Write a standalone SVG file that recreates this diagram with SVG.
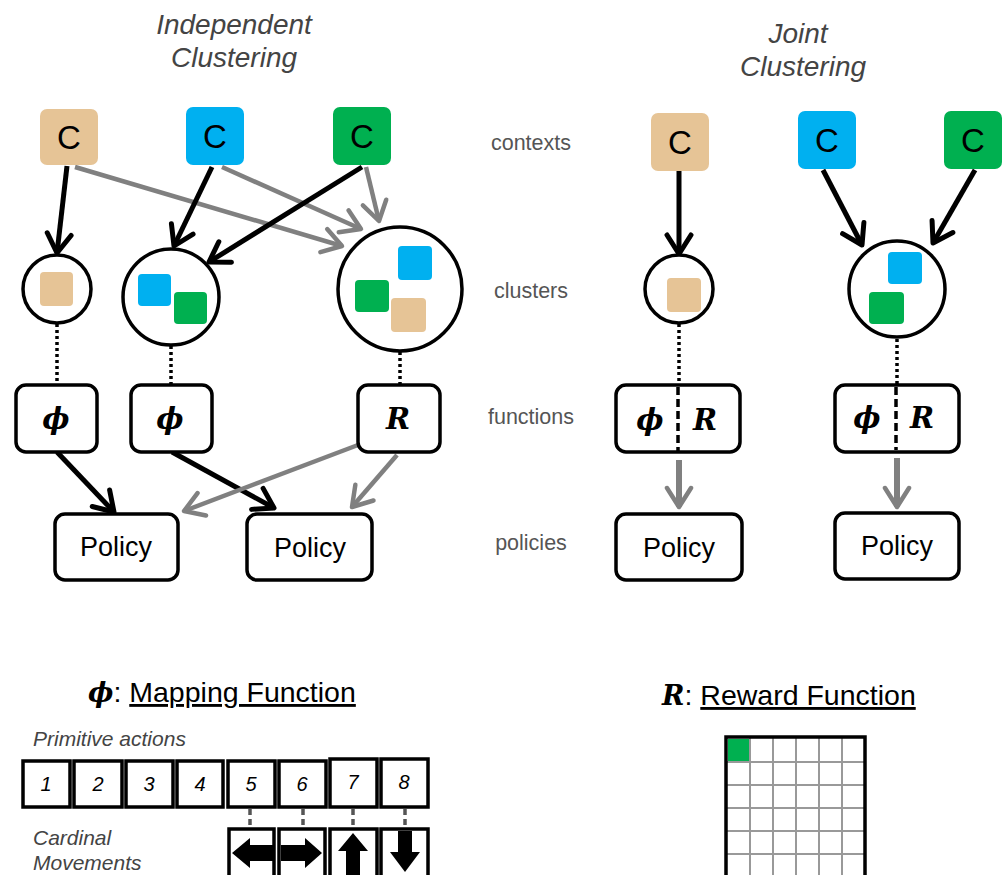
<svg xmlns="http://www.w3.org/2000/svg" width="1008" height="875" viewBox="0 0 1008 875">
<style>
.title{font-family:"Liberation Sans",Arial,sans-serif;font-style:italic;font-size:28px;fill:#444;text-anchor:middle}
.lab{font-family:"Liberation Sans",Arial,sans-serif;font-size:21.5px;fill:#555;text-anchor:middle}
.ctx{font-family:"Liberation Sans",Arial,sans-serif;font-size:33px;fill:#000;text-anchor:middle}
.pol{font-family:"Liberation Sans",Arial,sans-serif;font-size:27px;fill:#000;text-anchor:middle}
.sym{font-family:"DejaVu Serif","Liberation Serif",serif;font-style:italic;font-weight:bold;font-size:29px;fill:#000;text-anchor:middle}
.box{fill:#fff;stroke:#000;stroke-width:3.5}
.circ{fill:#fff;stroke:#000;stroke-width:3.5}
.tan{fill:#E6C496}.blue{fill:#00B0F0}.green{fill:#00B050}
.blk{stroke:#000;stroke-width:5;fill:none}
.gry{stroke:#808080;stroke-width:4.5;fill:none}
.dot{stroke:#000;stroke-width:3.5;stroke-dasharray:3 3;fill:none}
.dash{stroke:#000;stroke-width:3.5;stroke-dasharray:8 4;fill:none}
.it{font-family:"Liberation Sans",Arial,sans-serif;font-style:italic;font-size:21px;fill:#444}
.num{font-family:"Liberation Sans",Arial,sans-serif;font-style:italic;font-size:20px;fill:#000;text-anchor:middle}
.act{fill:#fff;stroke:#000;stroke-width:3.5}
.map{stroke:#555;stroke-width:3.5;stroke-dasharray:6 4;fill:none}
.head{font-family:"Liberation Sans",Arial,sans-serif;font-size:28.5px;fill:#000}
.grid{stroke:#999;stroke-width:2;fill:none}
</style>
<defs>
<marker id="ab" markerUnits="userSpaceOnUse" viewBox="-26 -16 30 32" refX="0" refY="0" markerWidth="30" markerHeight="32" orient="auto" overflow="visible">
<path d="M-19,-12 L0,0 L-19,12" fill="none" stroke="#000" stroke-width="5" stroke-linecap="round" stroke-linejoin="round"/>
</marker>
<marker id="ag" markerUnits="userSpaceOnUse" viewBox="-26 -16 30 32" refX="0" refY="0" markerWidth="30" markerHeight="32" orient="auto" overflow="visible">
<path d="M-19,-12 L0,0 L-19,12" fill="none" stroke="#808080" stroke-width="4.5" stroke-linecap="round" stroke-linejoin="round"/>
</marker>
</defs>
<rect width="1008" height="875" fill="#fff"/>

<g id="titles">
<text class="title" x="234" y="34">Independent</text>
<text class="title" x="234" y="67">Clustering</text>
<text class="title" x="798" y="43">Joint</text>
<text class="title" x="803" y="76">Clustering</text>
</g>
<g id="row-labels">
<text class="lab" x="531" y="150">contexts</text>
<text class="lab" x="531" y="298">clusters</text>
<text class="lab" x="531" y="424">functions</text>
<text class="lab" x="531" y="550">policies</text>
</g>

<g id="connectors">
<line class="blk" x1="67" y1="166" x2="57" y2="253" marker-end="url(#ab)"/>
<line class="gry" x1="75" y1="167" x2="342" y2="246" marker-end="url(#ag)"/>
<line class="blk" x1="212" y1="167" x2="174" y2="246" marker-end="url(#ab)"/>
<line class="gry" x1="222" y1="167" x2="361" y2="229" marker-end="url(#ag)"/>
<line class="blk" x1="362" y1="167" x2="209" y2="262" marker-end="url(#ab)"/>
<line class="gry" x1="366" y1="167" x2="379" y2="221" marker-end="url(#ag)"/>
<line class="blk" x1="57" y1="452" x2="114" y2="512" marker-end="url(#ab)"/>
<line class="blk" x1="172" y1="452" x2="274" y2="508" marker-end="url(#ab)"/>
<line class="gry" x1="358" y1="445" x2="184" y2="511" marker-end="url(#ag)"/>
<line class="gry" x1="397" y1="455" x2="352" y2="507" marker-end="url(#ag)"/>
<line class="blk" x1="679" y1="171" x2="679" y2="254" marker-end="url(#ab)"/>
<line class="blk" x1="823" y1="170" x2="862" y2="245" marker-end="url(#ab)"/>
<line class="blk" x1="975" y1="170" x2="933" y2="243" marker-end="url(#ab)"/>
<line class="gry" x1="679" y1="460" x2="679" y2="507" style="stroke-width:6" marker-end="url(#ag)"/>
<line class="gry" x1="897" y1="458" x2="897" y2="507" style="stroke-width:6" marker-end="url(#ag)"/>
<line class="dot" x1="57" y1="324" x2="57" y2="385"/>
<line class="dot" x1="171" y1="346" x2="171" y2="385"/>
<line class="dot" x1="400" y1="352" x2="400" y2="385"/>
<line class="dot" x1="679" y1="324" x2="679" y2="385"/>
<line class="dot" x1="897" y1="339" x2="897" y2="385"/>
</g>

<g id="ctx-tan-1"><rect class="tan" x="40" y="109" width="58" height="56" rx="7"/><text class="ctx" x="69" y="149">C</text></g>
<g id="ctx-blue-1"><rect class="blue" x="186" y="107" width="58" height="58" rx="7"/><text class="ctx" x="215" y="148">C</text></g>
<g id="ctx-green-1"><rect class="green" x="333" y="107" width="58" height="58" rx="7"/><text class="ctx" x="362" y="148">C</text></g>

<g id="cluster-1"><circle class="circ" cx="57" cy="289" r="34"/><rect class="tan" x="40" y="272" width="33" height="34" rx="4"/></g>
<g id="cluster-2"><circle class="circ" cx="171" cy="297" r="48"/><rect class="blue" x="138" y="274" width="33" height="32" rx="4"/><rect class="green" x="174" y="292" width="33" height="32" rx="4"/></g>
<g id="cluster-3"><circle class="circ" cx="400" cy="289" r="62"/><rect class="blue" x="398" y="246" width="34" height="34" rx="4"/><rect class="green" x="355" y="280" width="34" height="32" rx="4"/><rect class="tan" x="391" y="298" width="35" height="34" rx="4"/></g>

<g id="func-phi-1"><rect class="box" x="16" y="385" width="81" height="67" rx="10"/><text class="sym" x="56" y="429">ϕ</text></g>
<g id="func-phi-2"><rect class="box" x="131" y="385" width="81" height="67" rx="10"/><text class="sym" x="170" y="429">ϕ</text></g>
<g id="func-R-1"><rect class="box" x="358" y="385" width="82" height="67" rx="10"/><text class="sym" x="398" y="429">R</text></g>

<g id="policy-1"><rect class="box" x="55" y="514" width="123" height="66" rx="10"/><text class="pol" x="116" y="556">Policy</text></g>
<g id="policy-2"><rect class="box" x="247" y="514" width="125" height="66" rx="10"/><text class="pol" x="310" y="557">Policy</text></g>

<g id="ctx-tan-2"><rect class="tan" x="651" y="113" width="58" height="58" rx="7"/><text class="ctx" x="680" y="154">C</text></g>
<g id="ctx-blue-2"><rect class="blue" x="798" y="111" width="58" height="58" rx="7"/><text class="ctx" x="827" y="152">C</text></g>
<g id="ctx-green-2"><rect class="green" x="944" y="111" width="58" height="58" rx="7"/><text class="ctx" x="973" y="152">C</text></g>

<g id="cluster-4"><circle class="circ" cx="679" cy="289" r="34"/><rect class="tan" x="667" y="278" width="34" height="34" rx="4"/></g>
<g id="cluster-5"><circle class="circ" cx="897" cy="289" r="48"/><rect class="blue" x="888" y="252" width="34" height="32" rx="4"/><rect class="green" x="869" y="292" width="35" height="32" rx="4"/></g>

<g id="func-joint-1"><rect class="box" x="616" y="385" width="124" height="67" rx="10"/><line class="dash" x1="678" y1="387" x2="678" y2="452"/><text class="sym" x="650" y="430">ϕ</text><text class="sym" x="705" y="430">R</text></g>
<g id="func-joint-2"><rect class="box" x="835" y="385" width="124" height="67" rx="10"/><line class="dash" x1="896" y1="387" x2="896" y2="450"/><text class="sym" x="867" y="428">ϕ</text><text class="sym" x="922" y="428">R</text></g>

<g id="policy-3"><rect class="box" x="616" y="514" width="126" height="66" rx="10"/><text class="pol" x="679" y="557">Policy</text></g>
<g id="policy-4"><rect class="box" x="835" y="513" width="124" height="66" rx="10"/><text class="pol" x="897" y="555">Policy</text></g>

<g id="mapping-legend">
<text class="head" x="88" y="702"><tspan class="sym" style="font-size:27px;text-anchor:start">ϕ</tspan>: <tspan text-decoration="underline">Mapping Function</tspan></text>
<text class="it" x="33" y="746">Primitive actions</text>
<text class="it" x="33" y="845">Cardinal</text>
<text class="it" x="33" y="870">Movements</text>
<rect class="act" x="23" y="761" width="47" height="46"/><text class="num" x="46" y="791">1</text>
<rect class="act" x="74" y="761" width="48" height="46"/><text class="num" x="98" y="791">2</text>
<rect class="act" x="126" y="761" width="47" height="46"/><text class="num" x="149" y="791">3</text>
<rect class="act" x="177" y="761" width="46" height="46"/><text class="num" x="200" y="791">4</text>
<rect class="act" x="228" y="761" width="47" height="46"/><text class="num" x="251" y="791">5</text>
<rect class="act" x="279" y="761" width="47" height="46"/><text class="num" x="302" y="791">6</text>
<rect class="act" x="330" y="759" width="47" height="48"/><text class="num" x="353" y="789">7</text>
<rect class="act" x="381" y="759" width="47" height="48"/><text class="num" x="404" y="789">8</text>
<line class="map" x1="250" y1="809" x2="250" y2="829"/>
<line class="map" x1="303" y1="809" x2="303" y2="829"/>
<line class="map" x1="353" y1="809" x2="353" y2="829"/>
<line class="map" x1="405" y1="809" x2="405" y2="829"/>
<rect class="act" x="229" y="829" width="45" height="60"/>
<rect class="act" x="279" y="829" width="46" height="60"/>
<rect class="act" x="330" y="829" width="47" height="60"/>
<rect class="act" x="381" y="829" width="47" height="60"/>
<polygon points="232,853 250,838 250,845 274,845 274,861 250,861 250,868" fill="#000"/>
<polygon points="322,853 305,838 305,845 281,845 281,861 305,861 305,868" fill="#000"/>
<polygon points="353,833 368,851 360,851 360,880 346,880 346,851 338,851" fill="#000"/>
<polygon points="405,872 420,852 412,852 412,831 398,831 398,852 390,852" fill="#000"/>
</g>

<g id="reward-legend">
<text class="head" x="662" y="705"><tspan class="sym" style="font-size:27px;text-anchor:start">R</tspan>: <tspan text-decoration="underline">Reward Function</tspan></text>
<rect x="728" y="739" width="22" height="23" fill="#00B050"/>
<path class="grid" d="M750,737V880M773,737V880M796,737V880M819,737V880M842,737V880M726,762H865M726,785H865M726,808H865M726,831H865M726,854H865"/>
<rect x="726" y="737" width="139" height="150" fill="none" stroke="#000" stroke-width="3.5"/>
</g>
</svg>
